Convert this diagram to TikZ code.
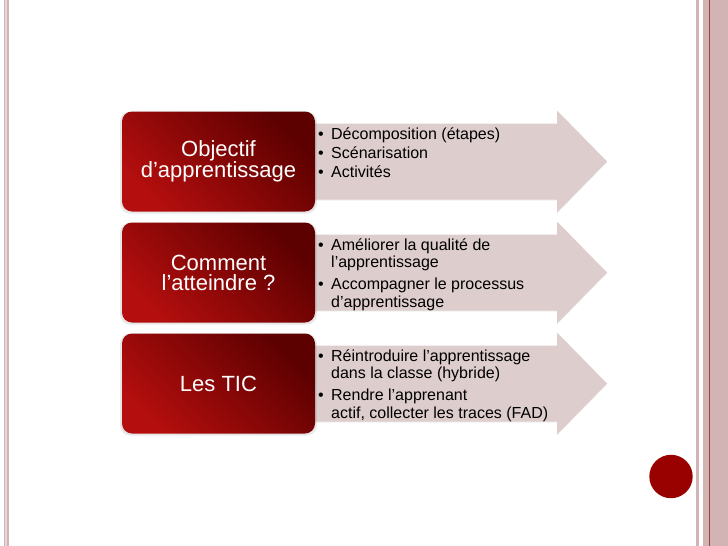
\documentclass[tikz,border=0pt]{standalone}
\usepackage{fontspec}
\setmainfont{Liberation Sans}
\usetikzlibrary{shadows}
\definecolor{boxclair}{RGB}{180,14,14}
\definecolor{boxfonce}{RGB}{92,0,0}
\definecolor{rosepale}{RGB}{222,205,205}
\definecolor{bord}{RGB}{211,180,180}
\definecolor{bordclair}{RGB}{232,212,212}
\definecolor{bordfonce}{RGB}{160,64,64}
\definecolor{pastille}{RGB}{153,0,0}
\newcommand{\puce}{\makebox[13pt][l]{\textbullet}}

\begin{document}
\begin{tikzpicture}[x=1pt,y=-1pt,
	bloc/.style={shape=rectangle, rounded corners=10pt, minimum width=193pt, minimum height=100pt, inner sep=0pt,
		top color=boxfonce, bottom color=boxclair, shading angle=-45, text=white, align=center,
		font=\fontsize{22}{20}\selectfont,
		drop shadow={shadow xshift=0pt, shadow yshift=-1pt, shadow scale=1.02, opacity=.18}},
	liste/.style={anchor=base west, inner sep=0pt, font=\fontsize{16}{17.5}\selectfont},
	flechebg/.style={fill=rosepale, drop shadow={shadow xshift=0pt, shadow yshift=-1pt, opacity=.12}}]
	\fill[white] (0,0) rectangle (728,546);
	\useasboundingbox (0,0) rectangle (728,546);
	% bordures
	\fill[bord] (3.8,0) rectangle (9,546);
	\fill[bordclair] (5.2,0) rectangle (7,546);
	\fill[bord] (696,0) rectangle (698.5,546);
	\fill[bord] (703,0) rectangle (728,546);
	\fill[bordfonce] (708.7,0) rectangle (710,546);
	\fill[pastille] (671,476.5) circle (21.7pt);
	% fleches
	\foreach \c in {161.5,272.5,383.5}
		\path[flechebg] (290,\c-38) -- (557,\c-38) -- (557,\c-51) -- (607,\c)
			-- (557,\c+51) -- (557,\c+38) -- (290,\c+38) -- cycle;
	% blocs rouges
	\node (obj) at (218.5,161.5) [bloc] {Objectif\\d’apprentissage};
	\node (comment) at (218.5,272.5) [bloc] {Comment\\l’atteindre ?};
	\node (tic) at (218.5,383.5) [bloc] {Les TIC};
	% listes
	\node (lobj) at (318,139) [liste] {\begin{tabular}[t]{@{}l@{}l@{}}
		\puce & Décomposition (étapes)\\[1.7pt]
		\puce & Scénarisation\\[1.7pt]
		\puce & Activités
	\end{tabular}};
	\node (lcomment) at (318,250) [liste] {\begin{tabular}[t]{@{}l@{}l@{}}
		\puce & Améliorer la qualité de\\
		& l’apprentissage\\[4.5pt]
		\puce & Accompagner le processus\\
		& d’apprentissage
	\end{tabular}};
	\node (ltic) at (318,361) [liste] {\begin{tabular}[t]{@{}l@{}l@{}}
		\puce & Réintroduire l’apprentissage\\
		& dans la classe (hybride)\\[4.5pt]
		\puce & Rendre l’apprenant\\
		& actif, collecter les traces (FAD)
	\end{tabular}};
\end{tikzpicture}
\end{document}
